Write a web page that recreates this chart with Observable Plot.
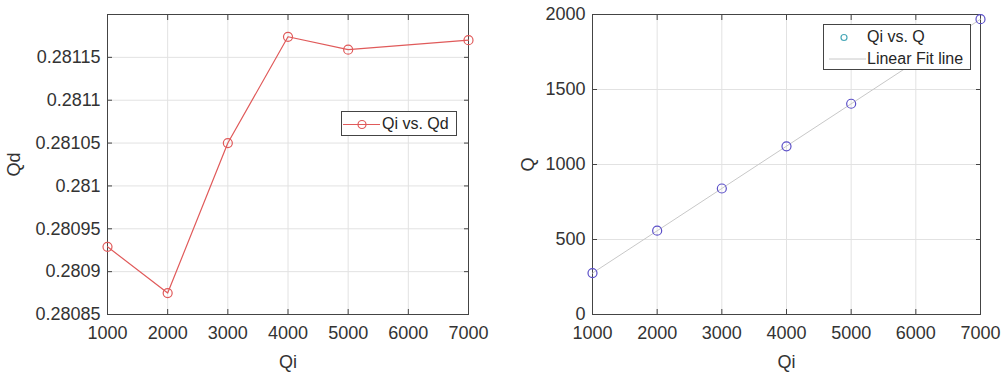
<!DOCTYPE html>
<html>
<head>
<meta charset="utf-8">
<script src="https://cdn.jsdelivr.net/npm/d3@7"></script>
<script src="https://cdn.jsdelivr.net/npm/@observablehq/plot@0.6"></script>
<style>
  body { margin: 0; background: #fff; }
  #wrap { position: relative; width: 1002px; height: 372px; overflow: hidden; font-family: "Liberation Sans", Arial, sans-serif; color: #333; }
  #left, #right { position: absolute; top: 0; }
  #left { left: 0; }
  #right { left: 500px; }
  .legend { position: absolute; background: #fff; border: 1px solid #444; box-sizing: border-box; font-size: 16px; color: #262626; }
  .legend svg { position: absolute; left: 0; top: 0; overflow: visible; }
  .legend span { position: absolute; white-space: nowrap; line-height: 1; }
</style>
</head>
<body>
<div id="wrap">
  <div id="left"></div>
  <div id="right"></div>
  <div class="legend" id="legL" style="left:341px; top:111px; width:116px; height:25px;">
    <svg width="116" height="25"><line x1="1" x2="38" y1="12.5" y2="12.5" stroke="#e05a5a" stroke-width="1.2"/><circle cx="20" cy="12.5" r="4" fill="none" stroke="#e05a5a" stroke-width="1.2"/></svg>
    <span style="left:40px; top:4px;">Qi vs. Qd</span>
  </div>
  <div class="legend" id="legR" style="left:823px; top:24px; width:148px; height:46px;">
    <svg width="148" height="46"><circle cx="20" cy="12.5" r="3" fill="none" stroke="#48a8b8" stroke-width="1.2"/><line x1="5" x2="42" y1="34" y2="34" stroke="#c8c8c8" stroke-width="1"/></svg>
    <span style="left:43px; top:4px;">Qi vs. Q</span>
    <span style="left:43px; top:26px;">Linear Fit line</span>
  </div>
</div>
<script>
const Qi = [1000, 2000, 3000, 4000, 5000, 7000];
const Qd = [0.280929, 0.280875, 0.28105, 0.281174, 0.281159, 0.28117];
const Q = [276, 559, 840, 1121, 1405, 1969];
const xTicks = [1000, 2000, 3000, 4000, 5000, 6000, 7000];
const qdTicks = [0.28085, 0.2809, 0.28095, 0.281, 0.28105, 0.2811, 0.28115];
const qTicks = [0, 500, 1000, 1500, 2000];

const leftData = Qi.map((x, i) => ({x, y: Qd[i]}));
const rightData = Qi.map((x, i) => ({x, y: Q[i]}));

const baseStyle = {fontSize: "18px", fontFamily: "'Liberation Sans', Arial, sans-serif", color: "#333", background: "#fff", overflow: "visible"};
const gridColor = "#e2e2e2";
const frameColor = "#444";

function axes(xt, yt, yfmt, xLabelOffset, yLabelOffset, yLabel) {
  return [
    Plot.gridX(xt, {stroke: gridColor, strokeOpacity: 1}),
    Plot.gridY(yt, {stroke: gridColor, strokeOpacity: 1}),
    Plot.axisX(xt, {anchor: "bottom", tickSize: -5, tickPadding: 17, stroke: frameColor, tickFormat: d => String(d), label: "Qi", labelAnchor: "center", labelArrow: "none", labelOffset: xLabelOffset, fontSize: 18}),
    Plot.axisX(xt, {anchor: "top", tickSize: -5, stroke: frameColor, tickFormat: () => "", label: null}),
    Plot.axisY(yt, {anchor: "left", tickSize: -5, tickPadding: 12, stroke: frameColor, tickFormat: yfmt, label: yLabel, labelAnchor: "center", labelArrow: "none", labelOffset: yLabelOffset, fontSize: 18}),
    Plot.axisY(yt, {anchor: "right", tickSize: -5, stroke: frameColor, tickFormat: () => "", label: null}),
    Plot.frame({stroke: frameColor, strokeWidth: 1})
  ];
}

const left = Plot.plot({
  width: 500, height: 372,
  marginLeft: 107, marginRight: 32, marginTop: 14, marginBottom: 58,
  style: baseStyle,
  x: {domain: [1000, 7000]},
  y: {domain: [0.28085, 0.2812]},
  marks: [
    ...axes(xTicks, qdTicks, d => String(+d.toFixed(5)), 53, 100, "Qd"),
    Plot.line(leftData, {x: "x", y: "y", stroke: "#e05a5a", strokeWidth: 1.2}),
    Plot.dot(leftData, {x: "x", y: "y", r: 4.5, stroke: "#e05a5a", strokeWidth: 1.2, fill: "none"})
  ]
});
document.getElementById("left").appendChild(left);

const right = Plot.plot({
  width: 502, height: 372,
  marginLeft: 92, marginRight: 22, marginTop: 14, marginBottom: 58,
  style: baseStyle,
  x: {domain: [1000, 7000]},
  y: {domain: [0, 2000]},
  marks: [
    ...axes(xTicks, qTicks, d => String(d), 53, 71, "Q"),
    Plot.linearRegressionY(rightData, {x: "x", y: "y", stroke: "#c8c8c8", strokeWidth: 1, ci: 0}),
    Plot.dot(rightData, {x: "x", y: "y", r: 4.5, stroke: "#5b4fc8", strokeWidth: 1.2, fill: "none"})
  ]
});
document.getElementById("right").appendChild(right);
</script>
</body>
</html>
